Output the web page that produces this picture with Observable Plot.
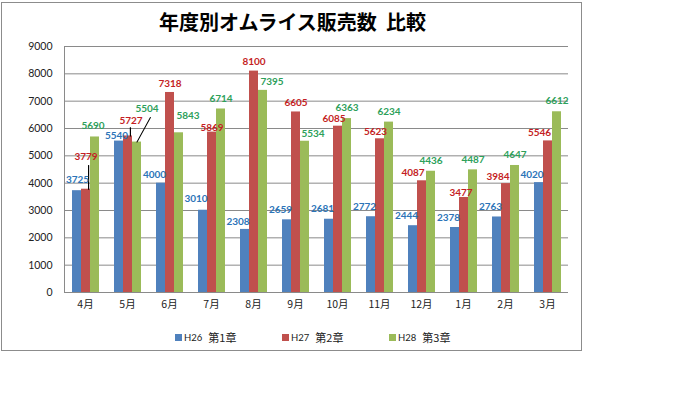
<!DOCTYPE html>
<html>
<head>
<meta charset="utf-8">
<script src="https://cdn.jsdelivr.net/npm/d3@7"></script>
<script src="https://cdn.jsdelivr.net/npm/@observablehq/plot@0.6"></script>
<style>
  html, body { margin: 0; padding: 0; background: #fff; }
  #wrap { position: relative; width: 700px; height: 393px; background: #fff; overflow: hidden; }
  #frame { position: absolute; left: 1px; top: 2px; width: 581px; height: 349px; border: 1px solid #8c8c8c; box-sizing: border-box; }
  #title { position: absolute; left: 1px; width: 583px; top: 10px; text-align: center; font: bold 20px "Noto Sans CJK JP", sans-serif; line-height: 24px; color: #000; }
  #chart { position: absolute; left: 0; top: 0; }
  #legend { position: absolute; left: 175px; top: 326px; height: 16px; white-space: nowrap; }
  .item { display: inline-block; width: 107px; vertical-align: middle; }
  .sw { display: inline-block; width: 7px; height: 7px; vertical-align: middle; margin-right: 2px; }
  .code { font: 9.5px Lato, sans-serif; color: #222; vertical-align: middle; margin-right: 6px; }
  .chap { font: 11px "Noto Sans CJK JP", sans-serif; color: #222; vertical-align: middle; }
</style>
</head>
<body>
<div id="wrap">
  <div id="frame"></div>
  <div id="chart"></div>
  <div id="title">年度別オムライス販売数&nbsp;&nbsp;比較</div>
  <div id="legend"></div>
</div>
<script>
// ---- data ----
const months = ["4月","5月","6月","7月","8月","9月","10月","11月","12月","1月","2月","3月"];
const seriesNames = ["H26","H27","H28"];
const chapters = ["第1章","第2章","第3章"];
const h26 = [3725,5540,4000,3010,2308,2659,2681,2772,2444,2378,2763,4020];
const h27 = [3779,5727,7318,5869,8100,6605,6085,5623,4087,3477,3984,5546];
const h28 = [5690,5504,5843,6714,7395,5534,6363,6234,4436,4487,4647,6612];
const yTicks = [0,1000,2000,3000,4000,5000,6000,7000,8000,9000];

// ---- styles ----
const barColors = ["#4F81BD","#C0504D","#9BBB59"];
const labelColors = ["#2C74B8","#C41E24","#2DA05A"];
const labelDefault = {H26: {dx: -6.5, dy: -10}, H27: {dx: 0, dy: -9}, H28: {dx: 0, dy: -10.5}};
const labelAdjust = {
  "4月|H26": {dx: 0.5, dy: -11},
  "4月|H27": {dx: 0, dy: -32},
  "4月|H28": {dx: -2, dy: -11.5},
  "5月|H26": {dx: -2.5, dy: -5.5},
  "5月|H27": {dx: 3, dy: -15.5},
  "5月|H28": {dx: 10, dy: -33.5},
  "6月|H26": {dx: -6.5, dy: -8.7},
  "6月|H28": {dx: 9, dy: -17},
  "7月|H26": {dx: -7, dy: -11.5},
  "7月|H27": {dx: 0, dy: -4.5},
  "8月|H26": {dx: -7, dy: -8},
  "8月|H28": {dx: 9, dy: -9},
  "9月|H28": {dx: 8, dy: -7},
  "10月|H27": {dx: -4, dy: -7},
  "11月|H27": {dx: -4.5, dy: -7},
  "12月|H27": {dx: -9, dy: -8},
  "1月|H27": {dx: -3, dy: -5},
  "2月|H27": {dx: -8, dy: -6.5},
  "3月|H26": {dx: -7, dy: -8},
  "3月|H27": {dx: -8.5, dy: -8.5}
};
const leaders = [
  {month: "4月", series: "H27", dx: 2.6, length: 24, rotate: 0},
  {month: "5月", series: "H27", dx: 2.4, length: 8.5, rotate: 0},
  {month: "5月", series: "H28", dx: 0, length: 28, rotate: 28.6}
];

const table = [];
const seriesValues = [h26, h27, h28];
months.forEach((m, i) => {
  seriesNames.forEach((s, j) => {
    table.push({month: m, series: s, value: seriesValues[j][i], si: j});
  });
});

const labelMarks = table.map(d => {
  const o = labelAdjust[d.month + "|" + d.series] || labelDefault[d.series];
  return Plot.text([d], {
    fx: "month", x: "series", y: "value",
    text: r => String(r.value),
    dx: o.dx, dy: o.dy,
    fill: labelColors[d.si],
    fontWeight: "bold", fontSize: 10, fontFamily: "Lato, sans-serif",
    lineAnchor: "middle", textAnchor: "middle"
  });
});

const leaderMarks = leaders.map(l => {
  const rec = table.find(d => d.month === l.month && d.series === l.series);
  return Plot.vector([rec], {
    fx: "month", x: "series", y: "value",
    length: l.length, rotate: l.rotate, anchor: "start",
    shape: "spike", r: 0, dx: l.dx,
    stroke: "#000", fill: "none", strokeWidth: 1
  });
});

const chart = Plot.plot({
  width: 700,
  height: 393,
  marginTop: 46,
  marginBottom: 101,
  marginLeft: 59,
  marginRight: 128,
  style: {background: "transparent", fontFamily: "Lato, sans-serif", overflow: "visible"},
  fx: {domain: months, padding: 0, label: null},
  x: {domain: seriesNames, paddingInner: 0, paddingOuter: 0.75, axis: null},
  y: {domain: [0, 9000], label: null},
  color: {domain: seriesNames, range: barColors},
  marks: [
    Plot.gridY(yTicks, {stroke: "#8a8a8a", strokeOpacity: 1, strokeWidth: 1}),
    Plot.frame({anchor: "left", stroke: "#8a8a8a", facetAnchor: "left"}),
    Plot.barY(table, {fx: "month", x: "series", y: "value", fill: "series"}),
    Plot.axisY(yTicks, {tickSize: 0, tickPadding: 12, tickFormat: d => String(d), label: null, fontSize: 10.5, fill: "#222", fontFamily: "Lato, sans-serif"}),
    Plot.axisFx({anchor: "bottom", tickSize: 0, tickPadding: 8, label: null, fontSize: 10.5, fill: "#222", fontFamily: "'Noto Sans CJK JP', sans-serif"}),
    ...leaderMarks,
    ...labelMarks
  ]
});
document.getElementById("chart").appendChild(chart);

// legend
const legend = document.getElementById("legend");
seriesNames.forEach((s, i) => {
  const item = document.createElement("span");
  item.className = "item";
  item.innerHTML = `<span class="sw" style="background:${barColors[i]}"></span><span class="code">${s}</span><span class="chap">${chapters[i]}</span>`;
  legend.appendChild(item);
});
</script>
</body>
</html>
